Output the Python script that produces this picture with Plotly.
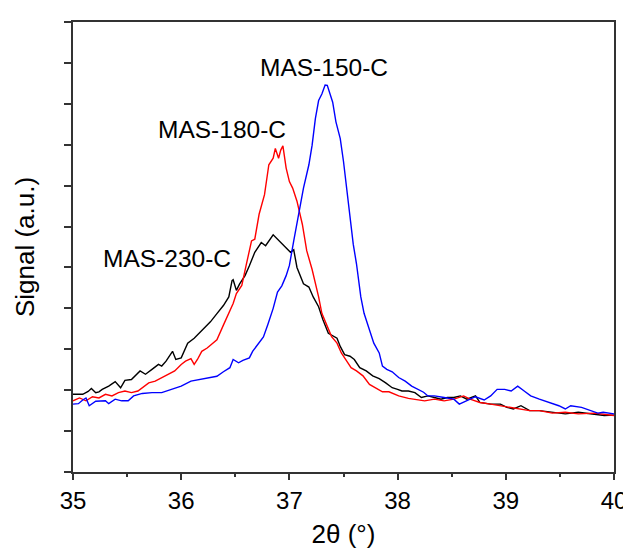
import plotly.graph_objects as go

# MAS-150-C (blue)
x150 = [35.00, 35.05, 35.09, 35.12, 35.15, 35.21, 35.30, 35.33, 35.39, 35.45, 35.51, 35.56,
        35.64, 35.73, 35.82, 35.91, 36.00, 36.09, 36.18, 36.27, 36.33, 36.39, 36.45, 36.48,
        36.53, 36.57, 36.63, 36.66, 36.72, 36.76, 36.80, 36.85, 36.89, 36.93, 36.97, 37.00,
        37.04, 37.09, 37.13, 37.18, 37.21, 37.24, 37.27, 37.30, 37.33, 37.35, 37.38, 37.40,
        37.43, 37.47, 37.50, 37.53, 37.56, 37.59, 37.62, 37.66, 37.69, 37.74, 37.78, 37.83,
        37.86, 37.90, 37.95, 38.01, 38.07, 38.13, 38.19, 38.24, 38.28, 38.34, 38.43, 38.52,
        38.57, 38.64, 38.72, 38.80, 38.86, 38.92, 38.99, 39.05, 39.11, 39.17, 39.23, 39.31,
        39.40, 39.49, 39.55, 39.60, 39.70, 39.79, 39.85, 39.90, 40.00]
y150 = [1.66, 1.67, 1.76, 1.81, 1.62, 1.73, 1.74, 1.67, 1.78, 1.74, 1.74, 1.86,
        1.92, 1.94, 1.94, 2.02, 2.10, 2.22, 2.26, 2.30, 2.34, 2.45, 2.55, 2.75,
        2.67, 2.73, 2.79, 2.95, 3.15, 3.30, 3.60, 4.00, 4.40, 4.55, 4.80, 5.05,
        5.65, 6.38, 6.94, 7.51, 7.99, 8.64, 9.08, 9.24, 9.46, 9.45, 9.20, 9.04,
        8.56, 8.15, 7.59, 6.86, 6.22, 5.57, 5.09, 4.28, 3.88, 3.47, 3.15, 2.91,
        2.59, 2.51, 2.45, 2.31, 2.22, 2.10, 2.02, 1.95, 1.86, 1.86, 1.82, 1.78,
        1.66, 1.74, 1.84, 1.76, 1.86, 2.02, 2.02, 1.98, 2.10, 1.98, 1.86, 1.78,
        1.70, 1.62, 1.54, 1.62, 1.58, 1.50, 1.44, 1.46, 1.42]

# MAS-180-C (red)
x180 = [35.00, 35.06, 35.12, 35.18, 35.24, 35.30, 35.36, 35.42, 35.48, 35.54, 35.60, 35.64,
        35.70, 35.76, 35.82, 35.88, 35.94, 36.00, 36.04, 36.09, 36.12, 36.15, 36.19, 36.24,
        36.29, 36.33, 36.39, 36.44, 36.48, 36.51, 36.56, 36.60, 36.65, 36.68, 36.72, 36.77,
        36.81, 36.85, 36.87, 36.90, 36.92, 36.94, 36.97, 37.00, 37.03, 37.07, 37.12, 37.16,
        37.21, 37.27, 37.30, 37.35, 37.39, 37.44, 37.48, 37.53, 37.57, 37.62, 37.68, 37.74,
        37.80, 37.86, 37.92, 38.01, 38.10, 38.16, 38.25, 38.34, 38.43, 38.52, 38.61, 38.67,
        38.76, 38.86, 38.95, 39.04, 39.13, 39.22, 39.31, 39.43, 39.55, 39.67, 39.82, 40.00]
y180 = [1.74, 1.81, 1.74, 1.84, 1.81, 1.90, 1.86, 1.94, 1.98, 1.94, 1.98, 2.06,
        2.18, 2.22, 2.30, 2.39, 2.47, 2.63, 2.71, 2.77, 2.63, 2.75, 2.95, 3.03,
        3.13, 3.23, 3.59, 3.87, 4.12, 4.36, 4.56, 5.05, 5.65, 5.69, 6.30, 6.78,
        7.51, 7.67, 7.91, 7.67, 7.87, 7.97, 7.43, 7.10, 6.94, 6.62, 6.05, 5.41,
        4.95, 4.28, 3.88, 3.56, 3.31, 3.15, 2.91, 2.71, 2.55, 2.47, 2.35, 2.14,
        2.06, 1.96, 1.96, 1.86, 1.80, 1.78, 1.74, 1.78, 1.74, 1.78, 1.86, 1.78,
        1.70, 1.66, 1.62, 1.58, 1.54, 1.50, 1.50, 1.44, 1.46, 1.42, 1.44, 1.38]

# MAS-230-C (black)
x230 = [35.00, 35.09, 35.14, 35.17, 35.21, 35.24, 35.27, 35.33, 35.39, 35.44, 35.48, 35.54,
        35.62, 35.67, 35.73, 35.79, 35.82, 35.86, 35.92, 35.95, 36.00, 36.06, 36.12, 36.18,
        36.23, 36.27, 36.33, 36.39, 36.44, 36.47, 36.48, 36.51, 36.54, 36.59, 36.63, 36.68,
        36.74, 36.78, 36.85, 36.89, 36.94, 36.98, 37.01, 37.04, 37.07, 37.13, 37.18, 37.22,
        37.27, 37.31, 37.36, 37.41, 37.44, 37.47, 37.51, 37.56, 37.60, 37.65, 37.71, 37.77,
        37.83, 37.89, 37.95, 38.00, 38.04, 38.10, 38.16, 38.22, 38.28, 38.34, 38.40, 38.46,
        38.52, 38.58, 38.64, 38.72, 38.76, 38.86, 38.95, 39.01, 39.07, 39.14, 39.22, 39.31,
        39.43, 39.55, 39.67, 39.79, 39.91, 40.00]
y230 = [1.90, 1.90, 1.97, 2.04, 1.94, 1.96, 2.02, 2.10, 2.21, 2.06, 2.24, 2.26,
        2.47, 2.39, 2.51, 2.63, 2.59, 2.71, 2.95, 2.75, 2.79, 3.15, 3.27, 3.43,
        3.55, 3.67, 3.87, 4.07, 4.28, 4.68, 4.70, 4.44, 4.60, 4.80, 5.04, 5.37,
        5.61, 5.53, 5.80, 5.70, 5.57, 5.45, 5.37, 5.43, 5.00, 4.60, 4.52, 4.28,
        4.04, 3.72, 3.39, 3.31, 3.27, 3.07, 2.87, 2.83, 2.75, 2.55, 2.47, 2.35,
        2.28, 2.18, 2.06, 2.02, 1.98, 1.98, 1.94, 1.82, 1.86, 1.82, 1.78, 1.82,
        1.82, 1.86, 1.78, 1.86, 1.70, 1.66, 1.66, 1.58, 1.54, 1.62, 1.50, 1.50,
        1.46, 1.42, 1.46, 1.42, 1.38, 1.39]

labels = ["MAS-150-C", "MAS-180-C", "MAS-230-C"]
label_x = [37.32, 36.38, 35.87]
label_y = [9.88, 8.37, 5.23]

x_ticks = [35, 36, 37, 38, 39, 40]

FONT = "Arial, Liberation Sans, sans-serif"

fig = go.Figure()
fig.add_trace(go.Scatter(x=x230, y=y230, mode="lines", name=labels[2],
                         line=dict(color="#000000", width=1.4)))
fig.add_trace(go.Scatter(x=x180, y=y180, mode="lines", name=labels[1],
                         line=dict(color="#ff0000", width=1.4)))
fig.add_trace(go.Scatter(x=x150, y=y150, mode="lines", name=labels[0],
                         line=dict(color="#0000ff", width=1.4)))

for t, xx, yy in zip(labels, label_x, label_y):
    fig.add_annotation(x=xx, y=yy, text=t, showarrow=False,
                       font=dict(family=FONT, size=24.5, color="#000000"))

fig.update_layout(
    width=631, height=548,
    margin=dict(l=65, r=15, t=12, b=81),
    paper_bgcolor="white", plot_bgcolor="white",
    showlegend=False,
    font=dict(family=FONT, color="#000000"),
)
fig.update_xaxes(
    range=[35, 40], tickmode="array", tickvals=x_ticks,
    ticks="outside", ticklen=6, tickwidth=1.5, tickcolor="#333333",
    minor=dict(dtick=0.5, ticks="outside", ticklen=3, tickwidth=1.5, tickcolor="#333333"),
    showline=True, linecolor="#333333", linewidth=2, mirror=True,
    showgrid=False, zeroline=False,
    tickfont=dict(family=FONT, size=24, color="#000000"),
    title=dict(text="2θ (°)", font=dict(family=FONT, size=26, color="#000000"), standoff=12),
)
fig.update_yaxes(
    range=[0, 11], dtick=1, tick0=0,
    ticks="outside", ticklen=7, tickwidth=1.5, tickcolor="#333333",
    showticklabels=False,
    showline=True, linecolor="#333333", linewidth=2, mirror=True,
    showgrid=False, zeroline=False,
    title=dict(text="Signal (a.u.)", font=dict(family=FONT, size=26, color="#000000"), standoff=22),
)

fig.write_html("out.html")
